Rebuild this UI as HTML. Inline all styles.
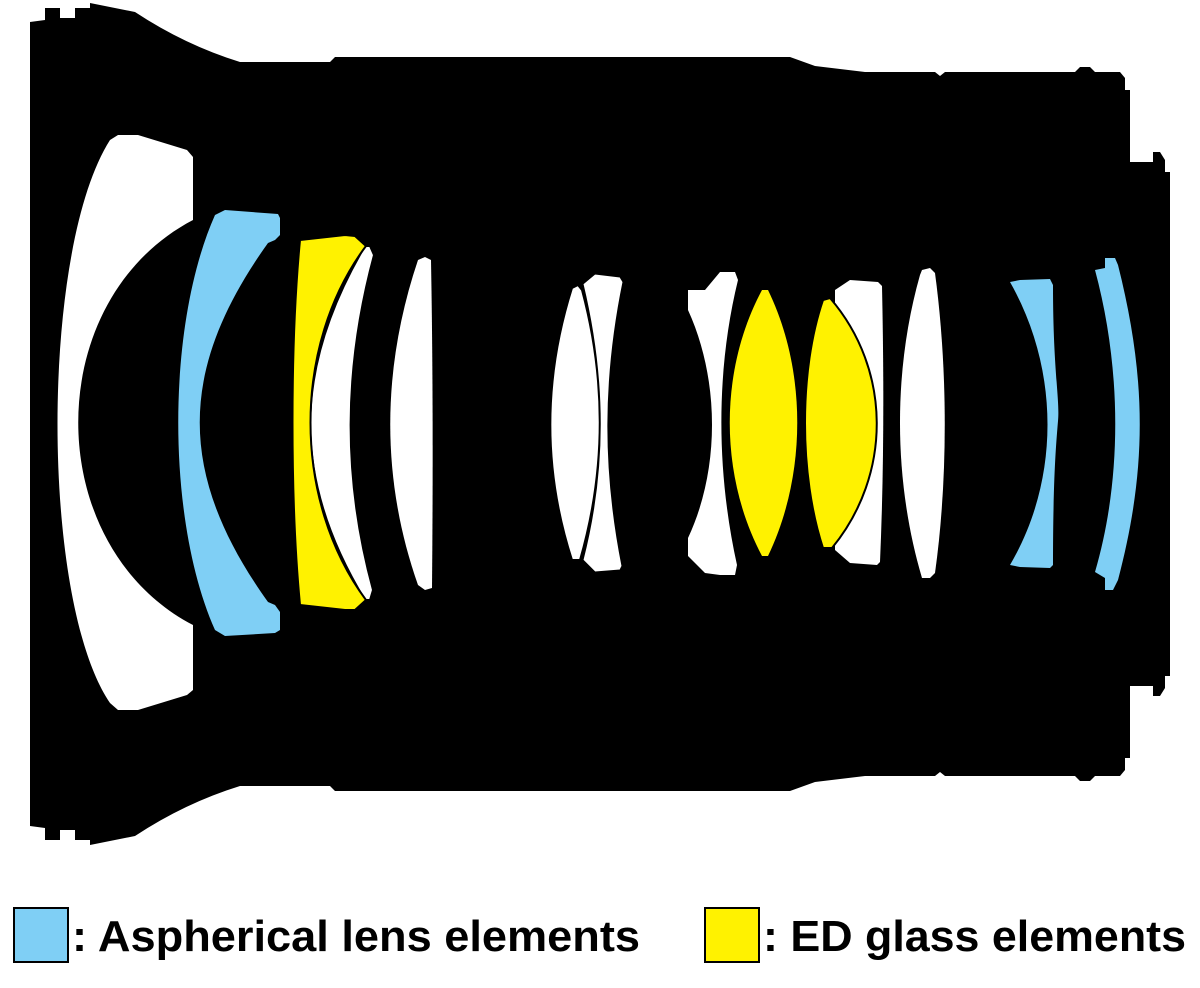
<!DOCTYPE html>
<html><head><meta charset="utf-8"><style>
html,body{margin:0;padding:0;background:#fff;}
svg{display:block}
text{font-family:"Liberation Sans",sans-serif;font-weight:bold;}
</style></head><body>
<svg width="1200" height="988" viewBox="0 0 1200 988" xmlns="http://www.w3.org/2000/svg">
<path fill="#000" d="M30,22 L45,20 L45,8 L60,8 L60,18 L75,18 L75,8 L90,8 L90,3 L135,12 Q185,45 240,62 L330,62 L335,57 L790,57 L815,66 L865,72 L935,72 L940,76 L945,72 L1075,72 L1080,67 L1090,67 L1095,72 L1120,72 L1125,78 L1125,90 L1130,90 L1130,162 L1153,162 L1153,152 L1160,152 L1165,160 L1165,172 L1170,172
L1170,676 L1165,676 L1165,688 L1160,696 L1153,696 L1153,686 L1130,686 L1130,758 L1125,758 L1125,770 L1120,776 L1095,776 L1090,781 L1080,781 L1075,776 L945,776 L940,772 L935,776 L865,776 L815,782 L790,791 L335,791 L330,786 L240,786 Q185,803 135,836 L90,845 L90,840 L75,840 L75,830 L60,830 L60,840 L45,840 L45,828 L30,826 Z"/>
<!-- front element -->
<path fill="#fff" d="M110,140 L118,135 L138,135 L187,150 L193,157 L193,220 C40,300 40,545 193,625 L193,690 L187,695 L138,710 L118,710 L110,703 C40,600 40,250 110,140 Z"/>
<!-- blue 1 -->
<path fill="#7fcff5" d="M215,215 L225,210 L278,214 L280,218 L280,235 L275,240 L268,243 C177,370 177,475 268,602 L275,605 L280,612 L280,630 L275,633 L225,636 L215,630 C166,520 166,325 215,215 Z"/>
<!-- white behind yellow -->
<path fill="#fff" stroke="#000" stroke-width="2" d="M365,246 L370,246 L374,255 C343,370 343,480 373,590 L370,600 L365,600 C292,480 292,370 365,246 Z"/>
<path fill="#fff200" stroke="#000" stroke-width="2" d="M300,240 L345,235 L355,236 L366,246 C292,345 292,500 366,600 L355,610 L345,610 L300,605 C290,500 290,345 300,240 Z"/>
<!-- white 4 -->
<path fill="#fff" d="M418,260 L425,257 L431,260 C433,370 433,480 432,588 L425,590 L418,585 C381,480 381,370 418,260 Z"/>
<!-- pair 5 -->
<path fill="#fff" stroke="#000" stroke-width="2" d="M572,288 L578,285 L582,290 C606,380 606,470 580,560 L572,560 C543,470 543,380 572,288 Z"/>
<path fill="#fff" stroke="#000" stroke-width="1" d="M583,284 L595,274 L620,277 L623,282 C603,380 603,470 622,566 L620,570 L595,572 L583,560 C606,470 606,380 583,284 Z"/>
<!-- white 6 -->
<path fill="#fff" d="M688,290 L705,290 L720,272 L735,272 L738,280 C716,370 716,470 737,565 L735,575 L720,575 L705,573 L688,556 L688,538 C720,470 720,380 688,310 Z"/>
<!-- yellow 7 -->
<path fill="#fff200" d="M762,290 L768,290 C807,370 807,475 768,556 L762,556 C719,475 719,370 762,290 Z"/>
<!-- 8 white + yellow -->
<path fill="#fff" d="M835,290 L850,280 L878,282 L882,286 C884,380 884,470 880,562 L877,565 L850,563 L835,550 Z"/>
<path fill="#fff200" stroke="#000" stroke-width="2" d="M823,300 L830,298 C892,370 892,475 832,548 L823,548 C799,475 799,370 823,300 Z"/>
<!-- white 9 -->
<path fill="#fff" d="M922,270 L930,268 L935,273 C948,370 948,480 935,573 L930,578 L922,578 C893,480 893,370 920,275 Z"/>
<!-- blue 10 -->
<path fill="#7fcff5" d="M1010,282 L1020,280 L1050,279 L1053,285 C1053,370 1060,400 1058,421 C1056,445 1053,480 1053,565 L1050,568 L1020,567 L1010,565 C1060,480 1060,370 1010,282 Z"/>
<!-- blue 11 -->
<path fill="#7fcff5" d="M1095,270 L1105,268 L1105,258 L1115,258 L1118,265 C1147,380 1147,470 1118,580 L1113,590 L1105,590 L1105,578 L1095,572 C1122,480 1122,370 1095,270 Z"/>
<!-- legend -->
<rect x="14" y="908" width="54" height="54" fill="#7fcff5" stroke="#000" stroke-width="2"/>
<text x="72" y="951" font-size="44" textLength="568" lengthAdjust="spacingAndGlyphs">: Aspherical lens elements</text>
<rect x="705" y="908" width="54" height="54" fill="#fff200" stroke="#000" stroke-width="2"/>
<text x="763" y="951" font-size="44" textLength="423" lengthAdjust="spacingAndGlyphs">: ED glass elements</text>
</svg>
</body></html>
